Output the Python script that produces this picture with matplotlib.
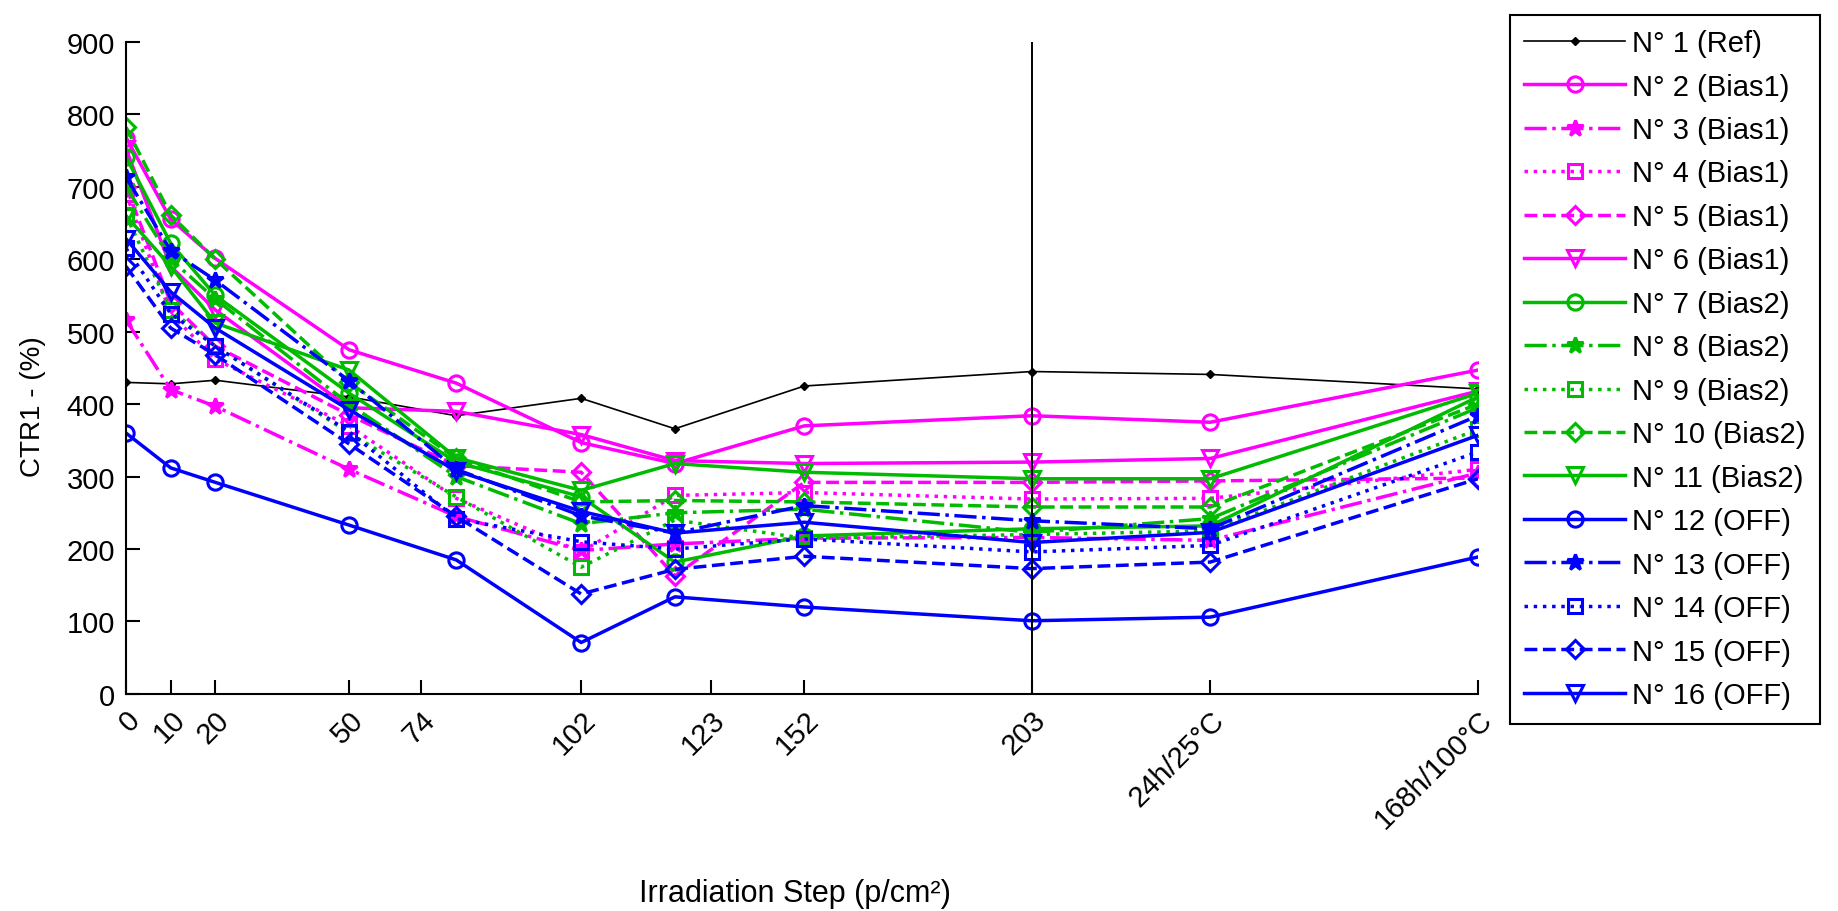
import matplotlib
matplotlib.use("Agg")
import matplotlib.pyplot as plt

plt.rcParams["font.family"] = ["Liberation Sans", "DejaVu Sans"]

# irradiation steps (data positions) and the axis ticks as drawn in the original
steps = [0, 10, 20, 50, 74, 102, 123, 152, 203, 243, 303]
tick_pos = [0, 10, 20, 50, 66, 102, 131, 152, 203, 243, 303]
tick_labels = ["0", "10", "20", "50", "74", "102", "123", "152", "203",
               "24h/25°C", "168h/100°C"]

labels = ["N° 1 (Ref)",
          "N° 2 (Bias1)", "N° 3 (Bias1)", "N° 4 (Bias1)", "N° 5 (Bias1)", "N° 6 (Bias1)",
          "N° 7 (Bias2)", "N° 8 (Bias2)", "N° 9 (Bias2)", "N° 10 (Bias2)", "N° 11 (Bias2)",
          "N° 12 (OFF)", "N° 13 (OFF)", "N° 14 (OFF)", "N° 15 (OFF)", "N° 16 (OFF)"]

ctr_1 = [430, 428, 433, 410, 384, 408, 366, 425, 445, 441, 421]
ctr_2 = [768, 655, 601, 475, 429, 347, 318, 370, 384, 375, 447]
ctr_3 = [516, 420, 397, 310, 245, 198, 207, 215, 216, 212, 305]
ctr_4 = [690, 525, 462, 370, 270, 196, 274, 278, 269, 270, 310]
ctr_5 = [700, 540, 480, 385, 315, 306, 163, 292, 292, 294, 298]
ctr_6 = [752, 590, 530, 395, 390, 358, 322, 318, 320, 325, 418]
ctr_7 = [741, 622, 550, 415, 320, 272, 182, 218, 228, 232, 410]
ctr_8 = [700, 600, 545, 400, 300, 235, 250, 255, 223, 242, 395]
ctr_9 = [660, 530, 480, 360, 272, 175, 240, 215, 220, 225, 365]
ctr_10 = [782, 661, 600, 430, 325, 265, 267, 265, 258, 258, 400]
ctr_11 = [660, 590, 512, 447, 326, 281, 318, 306, 297, 297, 415]
ctr_12 = [360, 312, 292, 233, 185, 71, 134, 120, 101, 106, 189]
ctr_13 = [713, 612, 571, 432, 310, 246, 222, 260, 239, 228, 384]
ctr_14 = [615, 525, 480, 362, 242, 210, 200, 214, 196, 205, 334]
ctr_15 = [590, 505, 468, 345, 245, 138, 172, 190, 173, 182, 297]
ctr_16 = [628, 555, 505, 392, 308, 252, 222, 237, 209, 223, 357]

series = [ctr_1, ctr_2, ctr_3, ctr_4, ctr_5, ctr_6, ctr_7, ctr_8, ctr_9,
          ctr_10, ctr_11, ctr_12, ctr_13, ctr_14, ctr_15, ctr_16]

MAGENTA, GREEN, BLUE = "#ff00ff", "#00bb00", "#0000ff"
group_styles = [("-", "o"), ("-.", "*"), (":", "s"), ("--", "D"), ("-", "v")]
FS = 21

fig = plt.figure(figsize=(18.38, 9.12), dpi=100)
ax = fig.add_axes([0.0686, 0.238, 0.7355, 0.715])

handles = []
h, = ax.plot(steps, ctr_1, color="black", lw=1.2, marker="D", ms=4.5,
             label=labels[0])
handles.append(h)
for i, (vals, lab) in enumerate(zip(series[1:], labels[1:])):
    color = [MAGENTA, GREEN, BLUE][i // 5]
    ls, mk = group_styles[i % 5]
    size = {"o": 11, "*": 12, "s": 10.5, "D": 9, "v": 11.5}[mk]
    h, = ax.plot(steps, vals, color=color, ls=ls, lw=2.5, marker=mk, ms=size,
                 mfc=color if mk == "*" else "none", mew=2.2, label=lab)
    handles.append(h)

# vertical marker at the last irradiation step
ax.plot([203, 203], [0, 900], color="black", lw=1.4)

ax.set_xlim(0, 303)
ax.set_ylim(0, 900)
ax.set_xticks(tick_pos)
ax.set_xticklabels(tick_labels, rotation=45, ha="right", va="top",
                   rotation_mode="anchor")
ax.set_yticks(range(0, 901, 100))
ax.tick_params(direction="in", length=10, width=1.5, labelsize=FS, pad=8)
for side in ("top", "right"):
    ax.spines[side].set_visible(False)
for side in ("left", "bottom"):
    ax.spines[side].set_linewidth(1.5)

fig.text(0.018, 0.554, "CTR1 - (%)", fontsize=20, rotation=90,
         ha="center", va="center")
fig.text(0.4325, 0.0197, "Irradiation Step (p/cm²)", fontsize=22,
         ha="center", va="center")

leg = fig.legend(handles=handles, loc="upper left",
                 bbox_to_anchor=(0.8214, 0.983), borderaxespad=0,
                 fontsize=FS, handlelength=3.45, handletextpad=0.25,
                 labelspacing=0.53, borderpad=0.5,
                 fancybox=False, framealpha=1, edgecolor="black")
leg.get_frame().set_linewidth(1.5)

fig.savefig("out.png", dpi=100)
